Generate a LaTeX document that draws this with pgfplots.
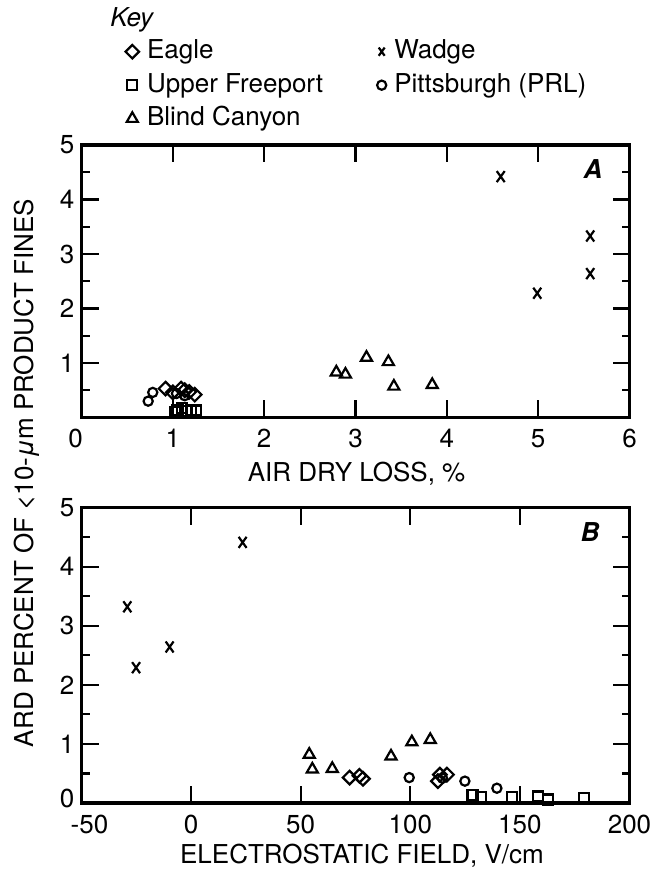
\documentclass[border=0pt]{standalone}
\usepackage{fontspec}
\setmainfont{TeX Gyre Heros}
\usepackage{pgfplots}
\pgfplotsset{compat=1.18}

\pgfplotsset{
  coalstyle/.style={
    scale only axis, clip=false,
    axis line style={line width=1.8pt},
    tick style={line width=1.1pt, black},
    major tick length=8.5pt, minor tick length=4pt,
    tick align=inside,
    ytick={0,1,2,3,4,5}, minor y tick num=1,
    ymin=0, ymax=5,
    every tick label/.append style={font=\fontsize{13}{15}\selectfont},
    xticklabel style={yshift=-2.5pt},
    legend image code/.code={\draw[mark repeat=2,mark phase=2,#1] plot coordinates {(0pt,0pt)(3.5pt,0pt)(7pt,0pt)};},
  },
  eagle/.style={only marks, mark=square, mark size=2.4pt, mark options={rotate=45, line width=1.1pt, fill=white}},
  freeport/.style={only marks, mark=square, mark size=2.5pt, mark options={line width=1.1pt, fill=white}},
  blind/.style={only marks, mark=triangle, mark size=3.2pt, mark options={line width=1.1pt, fill=white}},
  wadge/.style={only marks, mark=x, mark size=3.9pt, mark options={line width=1.1pt, xscale=0.72}},
  pitt/.style={only marks, mark=o, mark size=2.3pt, mark options={line width=1.1pt, fill=white}},
}

\begin{document}
\begin{tikzpicture}[font=\fontsize{13}{15}\selectfont]
\useasboundingbox (0,0) rectangle (325pt,436pt);

% panel A
\begin{axis}[coalstyle,
  at={(40.75pt,227.25pt)}, anchor=south west,
  width=274pt, height=136.25pt,
  xmin=0, xmax=6,
  xtick={0,1,2,3,4,5,6}, xticklabels={0\hspace*{6pt},1,2,3,4,5,6},
  yticklabels={,1,2,3,4,5},
  legend columns=2,
  legend style={at={(axis description cs:0.0796,1.399)}, anchor=north west,
    draw=none, fill=none, inner sep=0pt, row sep=1.75pt,
    nodes={inner sep=1pt, text height=10pt, text depth=3pt, font=\fontsize{13}{15}\selectfont},
    cells={anchor=west}},
]
\addplot[eagle] coordinates {(0.92,0.53) (1.00,0.46) (1.09,0.53) (1.13,0.50) (1.18,0.47) (1.24,0.42)};
\addlegendentry{\makebox[117pt][l]{\hspace*{3pt}Eagle}}
\addplot[wadge, legend image post style={mark size=2.9pt}] coordinates {(4.59,4.42) (4.99,2.28) (5.57,3.33) (5.57,2.64)};
\addlegendentry{\hspace*{3pt}Wadge}
\addplot[freeport] coordinates {(1.02,0.10) (1.05,0.14) (1.10,0.17) (1.15,0.12) (1.20,0.14) (1.25,0.13)};
\addlegendentry{\makebox[117pt][l]{\hspace*{3pt}Upper Freeport}}
\addplot[pitt] coordinates {(0.73,0.30) (0.78,0.46) (1.04,0.44) (1.13,0.40)};
\addlegendentry{\hspace*{3pt}Pittsburgh (PRL)}
\addplot[blind] coordinates {(2.79,0.83) (2.89,0.79) (3.12,1.10) (3.36,1.02) (3.42,0.57) (3.84,0.60)};
\addlegendentry{\makebox[117pt][l]{\hspace*{3pt}Blind Canyon}}
\node at (axis cs:5.6,4.55) {\bfseries\itshape A};
\end{axis}

% panel B
\begin{axis}[coalstyle,
  at={(40.75pt,34.5pt)}, anchor=south west,
  width=274pt, height=147.75pt,
  xmin=-50, xmax=200,
  xtick={-50,0,50,100,150,200}, xticklabels={\hspace*{8pt}-50,0,50,100,150,200},
  yticklabels={\raisebox{5pt}{0},1,2,3,4,5},
]
\addplot[eagle] coordinates {(72.3,0.43) (76.8,0.46) (78.4,0.41) (112.6,0.37) (113.5,0.48) (116.7,0.48)};
\addplot[wadge] coordinates {(-29.1,3.32) (-25.1,2.29) (-9.8,2.64) (23.5,4.41)};
\addplot[freeport] coordinates {(128.4,0.14) (132.3,0.10) (146.5,0.10) (158.2,0.11) (162.9,0.06) (179.3,0.08)};
\addplot[pitt] coordinates {(99.5,0.43) (114.7,0.42) (124.9,0.37) (139.5,0.25)};
\addplot[blind] coordinates {(53.9,0.82) (55.3,0.57) (64.4,0.58) (91.2,0.79) (100.7,1.03) (109.1,1.07)};
\node at (axis cs:182,4.58) {\bfseries\itshape B};
\end{axis}

\node[anchor=west, inner sep=0pt, font=\fontsize{13}{15}\selectfont\itshape] at (55pt,426pt) {Key};
\node at (178.3pt,199pt) {AIR DRY LOSS, \%};
\node at (181pt,8pt) {ELECTROSTATIC FIELD, V/cm};
\node[rotate=90] at (13.5pt,199.5pt) {ARD PERCENT OF <10-{\itshape μ}m PRODUCT FINES};
\end{tikzpicture}
\end{document}
